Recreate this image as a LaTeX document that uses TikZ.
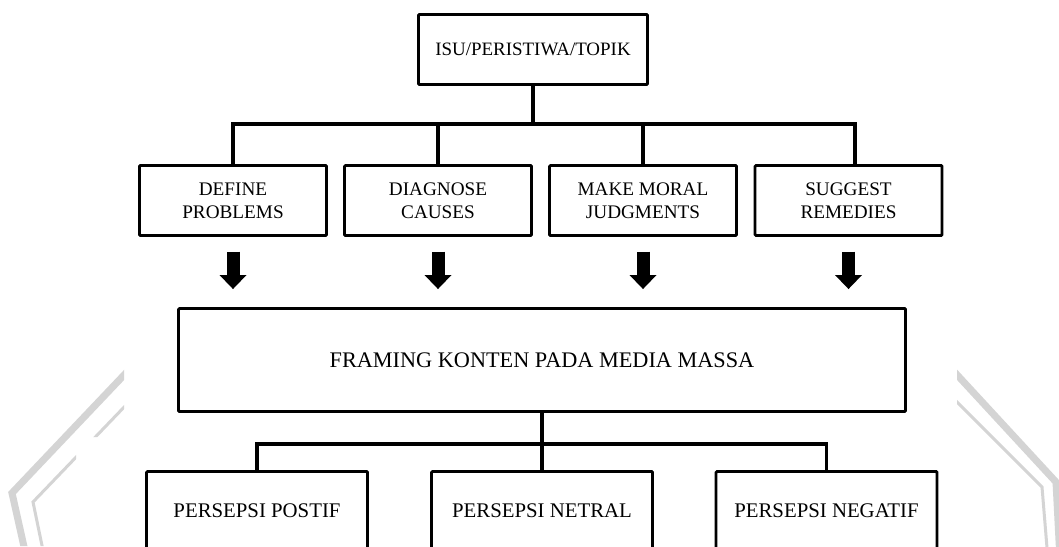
\documentclass[tikz,border=0pt]{standalone}
\usepackage{fontspec}
\setmainfont{Liberation Serif}
\usetikzlibrary{arrows.meta, calc}
\definecolor{wmark}{RGB}{212,212,212}

\begin{document}
\begin{tikzpicture}[
  x=0.75pt, y=-0.75pt,
  box/.style = {draw, line width=2.2pt, rounded corners=0.8pt, inner sep=0pt, align=center},
  topic/.style = {box, minimum width=171.75pt, minimum height=52.5pt, font=\fontsize{14.2}{17}\selectfont},
  element/.style = {box, minimum width=140.25pt, minimum height=52.5pt, font=\fontsize{14.4}{17.5}\selectfont},
  framing/.style = {box, minimum width=545.25pt, minimum height=77.25pt, font=\fontsize{16.7}{20}\selectfont},
  outcome/.style = {box, minimum width=165.75pt, minimum height=58.5pt, font=\fontsize{15.6}{19}\selectfont},
  link/.style = {line width=2.3pt},
  bigarrow/.style = {line width=9.75pt, -{Triangle[width=20.25pt, length=10.5pt, line width=0pt]},
                     shorten <=10.9pt, shorten >=13.5pt},
  watermark/.style = {draw=wmark, line cap=butt}
]

% Page
\fill[white] (0,0) rectangle (1059,546);
\useasboundingbox (0,0) rectangle (1059,546);

% Watermark
\begin{scope}
  \clip (0,0) -- (124,0) -- (124,437) -- (76,437) -- (76,546) -- (0,546) -- cycle;
  \draw[watermark, line width=5.25pt] (200,295) -- (12,493) -- (27,560);
  \draw[watermark, line width=2.25pt] (200,328) -- (33,502) -- (45,560);
\end{scope}
\begin{scope}
  \clip (957,0) rectangle (1059,546);
  \draw[watermark, line width=5.25pt] (900,313) -- (1056,482) -- (1060,560);
  \draw[watermark, line width=2.25pt] (900,345) -- (1042,487) -- (1048,560);
\end{scope}

% Boxes
\node[topic] (isu) at (533,49.5) {ISU/PERISTIWA/TOPIK};

\node[element] (define)   at (233,200.5) {DEFINE\\PROBLEMS};
\node[element] (diagnose) at (438,200.5) {DIAGNOSE\\CAUSES};
\node[element] (moral)    at (643,200.5) {MAKE MORAL\\JUDGMENTS};
\node[element] (suggest)  at (848.5,200.5) {SUGGEST\\REMEDIES};

\node[framing] (frame) at (542,360) {FRAMING KONTEN PADA MEDIA MASSA};

\node[outcome] (postif)  at (257,510.5) {PERSEPSI POSTIF};
\node[outcome] (netral)  at (542,510.5) {PERSEPSI NETRAL};
\node[outcome] (negatif) at (826.5,510.5) {PERSEPSI NEGATIF};

% Tree lines
\coordinate (bus1) at (533,124);
\coordinate (sugtop) at ($(suggest.north)+(6.5,0)$);
\draw[link] (isu.south) -- (bus1);
\draw[link] (define.north) |- (bus1) -| (sugtop);
\draw[link] (diagnose.north) -- (diagnose.north |- bus1);
\draw[link] (moral.north) -- (moral.north |- bus1);

\coordinate (bus2) at (542,444);
\draw[link] (frame.south) -- (netral.north);
\draw[link] (postif.north) |- (bus2) -| (negatif.north);

% Block arrows
\foreach \el in {define, diagnose, moral, suggest}
  \draw[bigarrow] (\el.south) -- (\el.south |- frame.north);

\end{tikzpicture}
\end{document}
